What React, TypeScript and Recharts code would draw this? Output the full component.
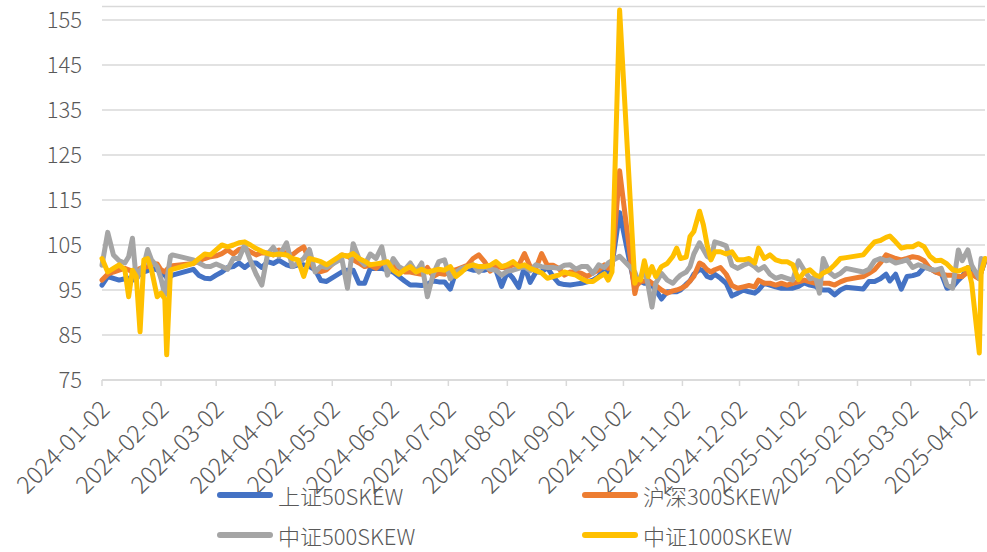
import { LineChart, Line, XAxis, YAxis, CartesianGrid } from "recharts";

const dates = [
  "2024-01-02", "2024-01-05", "2024-01-08", "2024-01-11", "2024-01-14", "2024-01-16", "2024-01-18", "2024-01-20", "2024-01-22", "2024-01-24", "2024-01-26", "2024-01-28", "2024-01-31", "2024-02-02", "2024-02-04", "2024-02-05", "2024-02-07", "2024-02-08", "2024-02-19", "2024-02-22", "2024-02-25", "2024-02-28", "2024-03-02", "2024-03-05", "2024-03-08", "2024-03-11", "2024-03-14", "2024-03-17",
  "2024-03-20", "2024-03-23", "2024-03-26", "2024-03-29", "2024-04-01", "2024-04-04", "2024-04-08", "2024-04-11", "2024-04-14", "2024-04-17", "2024-04-20", "2024-04-23", "2024-04-26", "2024-04-29", "2024-05-07", "2024-05-10", "2024-05-13", "2024-05-16", "2024-05-19", "2024-05-22", "2024-05-25", "2024-05-28", "2024-05-31", "2024-06-03", "2024-06-06",
  "2024-06-09", "2024-06-12", "2024-06-15", "2024-06-18", "2024-06-21", "2024-06-24", "2024-06-27", "2024-06-30", "2024-07-03", "2024-07-06", "2024-07-09", "2024-07-12", "2024-07-15", "2024-07-18", "2024-07-21", "2024-07-24", "2024-07-27", "2024-07-30", "2024-08-02", "2024-08-05", "2024-08-08", "2024-08-11", "2024-08-14", "2024-08-17", "2024-08-20", "2024-08-23",
  "2024-08-26", "2024-08-29", "2024-09-01", "2024-09-04", "2024-09-07", "2024-09-10", "2024-09-13", "2024-09-16", "2024-09-19", "2024-09-22", "2024-09-24", "2024-09-26", "2024-09-30", "2024-10-08", "2024-10-09", "2024-10-11", "2024-10-13", "2024-10-15", "2024-10-17", "2024-10-19", "2024-10-22", "2024-10-25", "2024-10-28", "2024-10-30", "2024-11-01", "2024-11-04", "2024-11-06", "2024-11-08",
  "2024-11-11", "2024-11-13", "2024-11-15", "2024-11-17", "2024-11-19", "2024-11-22", "2024-11-25", "2024-11-28", "2024-12-01", "2024-12-04", "2024-12-07", "2024-12-10", "2024-12-12", "2024-12-15", "2024-12-18", "2024-12-21", "2024-12-24", "2024-12-27", "2024-12-30", "2025-01-02", "2025-01-05", "2025-01-08", "2025-01-11", "2025-01-13", "2025-01-15", "2025-01-18", "2025-01-21", "2025-01-24", "2025-01-27",
  "2025-02-05", "2025-02-08", "2025-02-11", "2025-02-14", "2025-02-17", "2025-02-19", "2025-02-22", "2025-02-25", "2025-02-28", "2025-03-03", "2025-03-06", "2025-03-09", "2025-03-12", "2025-03-15", "2025-03-18", "2025-03-21", "2025-03-24", "2025-03-27", "2025-03-29", "2025-04-01", "2025-04-03", "2025-04-07", "2025-04-08", "2025-04-10",
];

// 上证50SKEW
const sz50 = [
  96.1, 98, 97.6, 97.2, 97.5, 97.6, 97.2, 97.5, 98.7, 99, 99.3, 99.8, 99.5, 98.8, 98.3, 97.8, 98, 98.3, 99.6, 98.2, 97.6, 97.5, 98.3, 99, 100, 100.2, 101, 100,
  101, 101, 100, 101.3, 100.9, 101.6, 100.6, 100.2, 100.6, 100.6, 100.2, 99.5, 97.1, 96.9, 99, 99.4, 99.4, 96.5, 96.5, 99.8, 99.8, 99.8, 99.4, 99, 98,
  97, 96.1, 96.1, 96, 96.3, 97, 96.8, 96.8, 95.2, 99, 99.4, 99.8, 99.4, 99.4, 99.4, 99.8, 99.4, 95.8, 99, 97.6, 95.6, 100.2, 96.7, 99, 99, 100,
  98, 96.5, 96.2, 96.1, 96.3, 96.5, 96.8, 97.2, 98, 100.2, 99, 100.5, 112.2, 95.7, 96.5, 96.9, 96.5, 96.5, 96, 95, 93, 94.6, 94.6, 94.6, 95, 96.3, 97, 98.5,
  99.6, 99.2, 98, 97.7, 98.5, 97.6, 96.5, 93.7, 94.3, 95, 94.6, 94.3, 95, 96.5, 96.1, 95.7, 95.4, 95.4, 95.4, 95.8, 96.6, 96.1, 95.8, 95.2, 95, 95, 93.9, 95, 95.6,
  95.2, 96.9, 96.9, 97.5, 98.5, 97, 98.5, 95.2, 98, 98.2, 98.6, 100, 99.8, 99, 98.7, 95.4, 95.7, 97.2, 98, 100, 99.5, 98, 99, 101.5,
];

// 沪深300SKEW
const hs300 = [
  97.2, 98.5, 99, 99.4, 99.8, 99.5, 99, 99.3, 99.8, 100, 100.2, 100.9, 100.8, 99.5, 99, 99.5, 100.2, 100.4, 100.9, 101.5, 102, 102.4, 102.6, 103.1, 103.9, 103, 104, 104.3,
  103.5, 102.8, 103.3, 103.2, 102.8, 103.9, 103.1, 102.8, 103.8, 104.6, 101.5, 99.4, 99.1, 99.5, 102.8, 102.5, 101.7, 101, 100.2, 100.5, 99.8, 101, 100.7, 100.6, 99.8,
  99, 99, 98.7, 98.5, 100, 98, 98.7, 98.5, 99.2, 99.5, 100, 100.5, 102, 102.8, 101.3, 99.2, 100.2, 100, 100, 100.6, 100.5, 103.1, 100.2, 99.8, 103.1, 100.5,
  100.5, 99.8, 98.3, 99, 99, 98.7, 98, 98.8, 99.5, 100.6, 99.8, 100.5, 121.5, 94.2, 96, 96.9, 97, 97.2, 96.5, 96, 95, 94.3, 94.8, 95, 95.3, 96, 97, 98,
  101, 100.5, 99.5, 99, 99.5, 100, 98.5, 96, 95.4, 95.7, 96, 95.7, 97.2, 96.5, 96.5, 96.1, 96.5, 96.1, 96.5, 96.8, 97.2, 96.8, 96.5, 96.8, 96.5, 96.5, 96.1, 96.8, 97.3,
  98, 98.7, 99.5, 101, 102.8, 102.5, 102, 101.7, 102, 102.4, 102.2, 101.5, 99.8, 99, 98.5, 98.3, 98.3, 98, 98, 99, 98.5, 97.5, 99, 101.7,
];

// 中证500SKEW
const zz500 = [
  100.5, 107.8, 102.8, 101.5, 101, 102.4, 106.5, 97.2, 99.4, 100.5, 104, 101.7, 100.2, 97.5, 93.9, 97, 102.5, 102.8, 101.7, 101, 100.3, 100.2, 100.8, 100.2, 99.6, 102, 102, 105,
  101.5, 98.5, 96.1, 103, 104.5, 102.5, 105.5, 100.2, 101, 102, 104, 99, 100.3, 100, 102, 95.4, 105.3, 102, 100.6, 103, 102, 104.6, 98.3, 102, 100.2,
  99.5, 101, 99, 101, 93.5, 98.5, 101.3, 101.7, 97.5, 99, 99.8, 100.2, 100.6, 99, 100.2, 99.6, 99.4, 98.3, 99.2, 99.4, 99.8, 100.2, 99.3, 100.6, 100.2, 100,
  100, 99.8, 100.5, 100.6, 99.6, 100.2, 100.2, 98.7, 100.6, 100, 101, 101.5, 102.5, 99, 97.8, 97.5, 100.2, 96, 91.2, 96.5, 98.7, 97.2, 96.5, 97.5, 98.3, 99, 100.2, 103,
  105.5, 104, 102.5, 102, 105.7, 105.3, 104.8, 100.5, 99.8, 100.5, 101, 100.2, 99.4, 100.2, 98.5, 97.6, 98, 97.6, 97.2, 101.5, 99.4, 97.5, 97.8, 94.3, 102, 99, 98, 98.7, 99.8,
  99, 99.6, 101.5, 102, 101.5, 101.7, 101, 101.3, 101.7, 100, 100.6, 100.2, 99.6, 99.4, 99.8, 96.1, 95.4, 103.9, 101.5, 103.9, 100.5, 97.5, 102, 101.7,
];

// 中证1000SKEW
const zz1000 = [
  102, 99, 99.8, 100.6, 99.5, 93.5, 99.4, 98, 85.7, 101.7, 102, 99.5, 93.5, 94.3, 93, 80.6, 99.4, 99.6, 100.9, 102, 103, 102.8, 103.9, 105, 104.6, 105, 105.5, 105.7,
  105, 104.2, 103.6, 103.1, 102.8, 103, 102.8, 102, 101.7, 98, 102, 101.7, 101.3, 100.6, 102.8, 102.5, 103.1, 102, 101.4, 100.6, 100.8, 101, 101.3, 99.4, 98.5,
  99.5, 100.2, 99, 99.6, 99, 99.3, 99.6, 99.4, 100.2, 98, 99, 100.2, 100.6, 100.2, 100.2, 100.5, 101.3, 100.2, 100.6, 101.3, 100.2, 100.6, 99.8, 99.3, 98.8, 97.6,
  98, 98.3, 99, 98.6, 98.3, 97.5, 96.9, 96.9, 97.8, 98.6, 97.2, 99, 157.2, 96.5, 97.5, 97.2, 101.5, 98, 100.2, 98, 100.2, 100.9, 102.5, 104.3, 102, 102.3, 106.9, 108,
  112.5, 109.5, 105, 101.7, 103.5, 103.5, 103, 103.5, 101.7, 101.7, 102, 101, 104.3, 102, 102.8, 101.7, 101.3, 101.3, 100.6, 97.3, 99, 99.5, 98.3, 98, 98.8, 99.4, 100.6, 102, 102.2,
  102.8, 104.3, 105.7, 106, 106.7, 107, 105.7, 104.3, 104.6, 104.6, 105.3, 104.6, 102.5, 101.5, 101.6, 100.8, 99.5, 99.2, 99.5, 100, 96.5, 81, 99, 102,
];

const tickDates = [
  "2024-01-02", "2024-02-02", "2024-03-02", "2024-04-02", "2024-05-02", "2024-06-02", "2024-07-02", "2024-08-02",
  "2024-09-02", "2024-10-02", "2024-11-02", "2024-12-02", "2025-01-02", "2025-02-02", "2025-03-02", "2025-04-02",
];
const yTicks = [75, 85, 95, 105, 115, 125, 135, 145, 155];

const series = [
  { key: "sz50", name: "上证50SKEW", color: "#4472C4" },
  { key: "hs300", name: "沪深300SKEW", color: "#ED7D31" },
  { key: "zz500", name: "中证500SKEW", color: "#A5A5A5" },
  { key: "zz1000", name: "中证1000SKEW", color: "#FFC000" },
];

const start = Date.parse(dates[0]);
const toDay = (s: string) => Math.round((Date.parse(s) - start) / 86400000);

const data = dates.map((d, i) => ({
  x: toDay(d),
  sz50: sz50[i],
  hs300: hs300[i],
  zz500: zz500[i],
  zz1000: zz1000[i],
}));
const xTicks = tickDates.map(toDay);

const FONT = "'Noto Sans CJK SC', 'Noto Sans', sans-serif";
const TEXT = "#595959";

const DateTick = ({ x, y, payload }: any) => {
  const label = tickDates[xTicks.indexOf(payload.value)] ?? "";
  const ax = x + 9;
  const ay = y + 23;
  return (
    <text
      x={ax}
      y={ay}
      transform={`rotate(-45 ${ax} ${ay})`}
      textAnchor="end"
      fill={TEXT}
      fontSize={24}
      fontWeight={300}
      fontFamily={FONT}
    >
      {label}
    </text>
  );
};

export default function App() {
  return (
    <div style={{ position: "absolute", left: 0, top: 0, width: 987, height: 552, background: "#fff", fontFamily: FONT }}>
      <LineChart width={987} height={552} data={data} margin={{ top: 6.5, right: 2, bottom: 72, left: 0 }}>
        <CartesianGrid vertical={false} stroke="#d9d9d9" strokeWidth={1.5} />
        <XAxis
          dataKey="x"
          type="number"
          domain={[0, toDay(dates[dates.length - 1])]}
          ticks={xTicks}
          interval={0}
          height={100}
          tick={<DateTick />}
          tickSize={6}
          axisLine={{ stroke: "#d9d9d9", strokeWidth: 1.5 }}
          tickLine={{ stroke: "#d9d9d9", strokeWidth: 1.5 }}
        />
        <YAxis
          domain={[75, 158]}
          ticks={yTicks}
          interval={0}
          width={102}
          axisLine={false}
          tickLine={false}
          tickMargin={14}
          tick={{ fill: TEXT, fontSize: 22, fontWeight: 300, fontFamily: FONT }}
        />
        {series.map((s) => (
          <Line
            key={s.key}
            dataKey={s.key}
            name={s.name}
            type="linear"
            stroke={s.color}
            strokeWidth={5}
            strokeLinejoin="round"
            strokeLinecap="round"
            dot={false}
            activeDot={false}
            isAnimationActive={false}
          />
        ))}
      </LineChart>
      <div
        style={{
          position: "absolute",
          left: 217,
          top: 477,
          display: "grid",
          gridTemplateColumns: "365px 365px",
          rowGap: 4,
        }}
      >
        {series.map((s) => (
          <div key={s.key} style={{ display: "flex", alignItems: "center", height: 36 }}>
            <span style={{ display: "inline-block", width: 56, height: 6, borderRadius: 3, background: s.color, marginRight: 5 }} />
            <span style={{ fontSize: 22, fontWeight: 300, color: TEXT, lineHeight: "36px" }}>{s.name}</span>
          </div>
        ))}
      </div>
    </div>
  );
}
